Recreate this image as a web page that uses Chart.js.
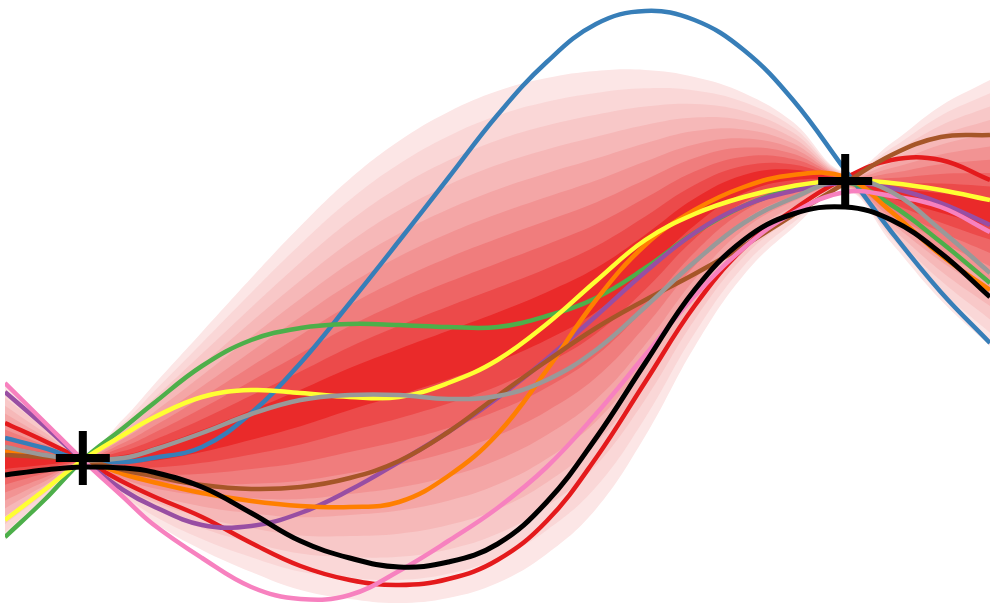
<!DOCTYPE html>
<html>
<head>
<meta charset="utf-8">
<script src="https://cdn.jsdelivr.net/npm/chart.js@4.4.1/dist/chart.umd.min.js"></script>
<style>
  html, body { margin: 0; padding: 0; background: #ffffff; }
  #wrap { width: 995px; height: 610px; position: relative; }
</style>
</head>
<body>
<div id="wrap"><canvas id="c"></canvas></div>
<script>
// ---- data ----
const xs = [0, 0.4, 0.79, 1.2, 1.5, 2, 2.5, 3, 3.5, 4, 4.5, 5, 5.5, 6, 6.5, 7, 7.5, 8, 8.53, 9, 9.5, 10];

const meanCurve   = [-1.56, -1.56, -1.55, -1.54, -1.49, -1.36, -1.20, -1.03, -0.84, -0.67, -0.50, -0.32, -0.11, 0.15, 0.52, 0.93, 1.21, 1.30, 1.24, 1.12, 1.02, 0.92];
const outerSpread = [0.79, 0.41, 0.06, 0.40, 0.68, 1.09, 1.47, 1.82, 2.10, 2.31, 2.43, 2.46, 2.38, 2.19, 1.83, 1.35, 0.91, 0.53, 0.09, 0.50, 0.97, 1.33];
const bandFractions = [1, 0.9, 0.8, 0.7, 0.6, 0.5, 0.4, 0.3, 0.2, 0.1];
const bandColors = ['#fce6e6', '#fad7d7', '#f8c8c8', '#f6b8b8', '#f4a6a6', '#f29393', '#f07d7d', '#ee6565', '#ec4a4a', '#ea2a2a'];

const obsX = [0.79, 8.53];
const obsY = [-1.53, 1.24];

const sampleRed    = [-1.18, -1.36, -1.55, -1.77, -1.91, -2.12, -2.38, -2.61, -2.75, -2.80, -2.74, -2.55, -2.16, -1.53, -0.77, -0.01, 0.57, 0.95, 1.27, 1.45, 1.45, 1.25];
const sampleBlue   = [-1.33, -1.43, -1.55, -1.57, -1.53, -1.42, -1.08, -0.58, 0.02, 0.64, 1.27, 1.90, 2.43, 2.81, 2.94, 2.85, 2.55, 2.05, 1.35, 0.73, 0.13, -0.38];
const sampleGreen  = [-2.32, -1.95, -1.55, -1.23, -0.99, -0.61, -0.35, -0.23, -0.19, -0.20, -0.22, -0.22, -0.11, 0.07, 0.37, 0.72, 0.99, 1.16, 1.23, 1.00, 0.63, 0.22];
const samplePurple = [-0.87, -1.21, -1.55, -1.85, -2.01, -2.20, -2.21, -2.08, -1.85, -1.57, -1.27, -0.93, -0.54, -0.11, 0.33, 0.72, 0.99, 1.14, 1.22, 1.17, 1.02, 0.80];
const sampleOrange = [-1.47, -1.51, -1.55, -1.69, -1.77, -1.88, -1.96, -2.01, -2.02, -1.97, -1.71, -1.29, -0.65, 0.05, 0.60, 0.95, 1.18, 1.30, 1.28, 0.93, 0.50, 0.15];
const sampleYellow = [-2.15, -1.85, -1.55, -1.30, -1.13, -0.92, -0.85, -0.88, -0.92, -0.92, -0.78, -0.55, -0.19, 0.24, 0.65, 0.91, 1.08, 1.19, 1.25, 1.22, 1.15, 1.05];
const sampleBrown  = [-1.50, -1.52, -1.55, -1.65, -1.71, -1.80, -1.84, -1.82, -1.73, -1.56, -1.27, -0.91, -0.56, -0.23, 0.05, 0.31, 0.59, 0.90, 1.22, 1.50, 1.68, 1.70];
const samplePink   = [-0.78, -1.17, -1.55, -1.92, -2.19, -2.53, -2.82, -2.94, -2.90, -2.66, -2.36, -2.03, -1.62, -1.09, -0.50, 0.09, 0.57, 0.92, 1.13, 1.09, 0.98, 0.73];
const sampleGrey   = [-1.42, -1.50, -1.55, -1.53, -1.45, -1.28, -1.09, -0.95, -0.90, -0.90, -0.94, -0.91, -0.75, -0.45, -0.02, 0.43, 0.82, 1.07, 1.25, 1.13, 0.75, 0.32];
const sampleBlack  = [-1.70, -1.65, -1.62, -1.63, -1.67, -1.82, -2.08, -2.36, -2.53, -2.62, -2.57, -2.39, -1.97, -1.33, -0.58, 0.15, 0.65, 0.91, 0.98, 0.85, 0.52, 0.08];

// ---- build datasets ----
const pts = arr => xs.map((x, i) => ({ x: x, y: arr[i] }));
const datasets = [];

// crosses at observations (on top)
datasets.push({
  type: 'scatter',
  data: obsX.map((x, i) => ({ x: x, y: obsY[i] })),
  pointStyle: 'cross',
  pointRadius: 27,
  pointHoverRadius: 27,
  pointBorderWidth: 8,
  pointBorderColor: '#000000',
  borderColor: '#000000',
  showLine: false,
  clip: false,
  order: 0
});

const samples = [
  [sampleBlack,  '#000000', 5, 1],
  [sampleGrey,   '#999999', 4.5, 2],
  [samplePink,   '#f781bf', 4.5, 3],
  [sampleBrown,  '#a65628', 4.5, 4],
  [sampleYellow, '#ffff33', 4.5, 5],
  [sampleOrange, '#ff7f00', 4.5, 6],
  [samplePurple, '#984ea3', 4.5, 7],
  [sampleGreen,  '#4daf4a', 4.5, 8],
  [sampleBlue,   '#377eb8', 4.5, 9],
  [sampleRed,    '#e41a1c', 4.5, 10]
];
samples.forEach(s => {
  datasets.push({
    type: 'line',
    data: pts(s[0]),
    borderColor: s[1],
    borderWidth: s[2],
    pointRadius: 0,
    fill: false,
    tension: 0.4,
    order: s[3]
  });
});

// nested bands around the mean, outer (light) first
bandFractions.forEach((f, k) => {
  const up = meanCurve.map((m, i) => m + outerSpread[i] * f);
  const lo = meanCurve.map((m, i) => m - outerSpread[i] * f);
  const ord = 100 - k;
  datasets.push({
    type: 'line',
    data: pts(up),
    borderWidth: 0,
    borderColor: 'rgba(0,0,0,0)',
    backgroundColor: bandColors[k],
    pointRadius: 0,
    tension: 0.4,
    fill: '+1',
    order: ord
  });
  datasets.push({
    type: 'line',
    data: pts(lo),
    borderWidth: 0,
    borderColor: 'rgba(0,0,0,0)',
    pointRadius: 0,
    tension: 0.4,
    fill: false,
    order: ord
  });
});

new Chart(document.getElementById('c'), {
  type: 'line',
  data: { datasets: datasets },
  options: {
    responsive: true,
    maintainAspectRatio: false,
    animation: false,
    layout: { autoPadding: false, padding: { left: 5, right: 5, top: 0, bottom: 0 } },
    plugins: {
      legend: { display: false },
      tooltip: { enabled: false }
    },
    events: [],
    scales: {
      x: { type: 'linear', min: 0, max: 10, display: false },
      y: { type: 'linear', min: -3.05, max: 3.05, display: false }
    }
  }
});
</script>
</body>
</html>
